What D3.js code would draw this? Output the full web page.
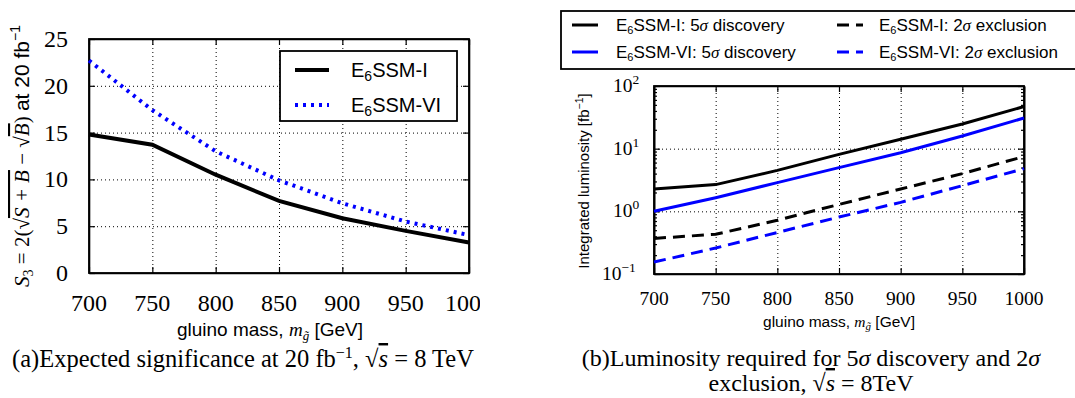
<!DOCTYPE html>
<html>
<head>
<meta charset="utf-8">
<script src="https://cdn.jsdelivr.net/npm/d3@7"></script>
<style>
  body { margin: 0; background: #fff; }
  svg { display: block; }
  .serif { font-family: "Liberation Serif", "Times New Roman", serif; }
  .sans { font-family: "Liberation Sans", Arial, sans-serif; }
  .grid line { stroke: #000; stroke-width: 1; stroke-dasharray: 1,3; }
  .grid path { display: none; }
  .frame path { stroke: #000; stroke-width: 1.6; }
  .frame line { stroke: #000; stroke-width: 1.2; }
</style>
</head>
<body>
<div id="chart"></div>
<script>
// gluino masses (GeV)
const masses = [700, 750, 800, 850, 900, 950, 1000];

// (a) expected significance S3 at 20 fb^-1
const sigI = [14.8, 13.7, 10.5, 7.7, 5.85, 4.5, 3.25];
const sigVI = [22.7, 17.4, 13.0, 9.9, 7.45, 5.5, 4.05];

// (b) luminosity required [fb^-1]
const discI = [2.27, 2.67, 4.5, 8.1, 14.1, 24.7, 47];
const discVI = [1.0, 1.65, 2.87, 4.98, 8.6, 15.9, 30.8];
const exclI = [0.37, 0.43, 0.72, 1.29, 2.27, 4.0, 7.5];
const exclVI = [0.155, 0.26, 0.46, 0.81, 1.39, 2.57, 4.8];

const xTicks = [700, 750, 800, 850, 900, 950, 1000];
const sigTicks = [0, 5, 10, 15, 20, 25];
const lumiTicks = [0.1, 1, 10, 100];

const width = 1075;
const height = 398;

const svg = d3.select('#chart')
  .append('svg')
  .attr('width', width)
  .attr('height', height);

// clip for left panel (its "1000" label gets cut)
svg.append('clipPath').attr('id', 'clipA')
  .append('rect').attr('x', 0).attr('y', 0).attr('width', 480).attr('height', height);

const line = (x, y) => d3.line().x((d, i) => x(masses[i])).y((d) => y(d));

// draws dotted grid + inward ticks on four sides
function drawFrame(g, x, y, w, h, yTickVals, minor) {
  g.append('g').attr('class', 'grid')
    .attr('transform', `translate(0,${h})`)
    .call(d3.axisBottom(x).tickValues(xTicks).tickSize(-h).tickFormat(''));
  g.append('g').attr('class', 'grid')
    .call(d3.axisLeft(y).tickValues(yTickVals).tickSize(-w).tickFormat(''));

  g.append('g').attr('class', 'frame').attr('transform', `translate(0,${h})`)
    .call(d3.axisBottom(x).tickValues(xTicks).tickSizeInner(-6).tickSizeOuter(0).tickFormat(''));
  g.append('g').attr('class', 'frame')
    .call(d3.axisTop(x).tickValues(xTicks).tickSizeInner(-6).tickSizeOuter(0).tickFormat(''));
  g.append('g').attr('class', 'frame')
    .call(d3.axisLeft(y).tickValues(yTickVals).tickSizeInner(-6).tickSizeOuter(0).tickFormat(''));
  g.append('g').attr('class', 'frame').attr('transform', `translate(${w},0)`)
    .call(d3.axisRight(y).tickValues(yTickVals).tickSizeInner(-6).tickSizeOuter(0).tickFormat(''));
  if (minor) {
    g.append('g').attr('class', 'frame')
      .call(d3.axisLeft(y).tickValues(minor).tickSizeInner(-3).tickSizeOuter(0).tickFormat(''));
    g.append('g').attr('class', 'frame').attr('transform', `translate(${w},0)`)
      .call(d3.axisRight(y).tickValues(minor).tickSizeInner(-3).tickSizeOuter(0).tickFormat(''));
  }
  g.append('rect')
    .attr('width', w).attr('height', h)
    .attr('fill', 'none').attr('stroke', '#000').attr('stroke-width', 1.8);
}

// ---------- panel (a) ----------
const aLeft = 89, aTop = 39, aW = 380, aH = 234;
const gA = svg.append('g').attr('clip-path', 'url(#clipA)')
  .append('g').attr('transform', `translate(${aLeft},${aTop})`);

const xA = d3.scaleLinear().domain([700, 1000]).range([0, aW]);
const yA = d3.scaleLinear().domain([0, 25]).range([aH, 0]);

drawFrame(gA, xA, yA, aW, aH, sigTicks, null);

gA.append('path').datum(sigVI)
  .attr('d', line(xA, yA))
  .attr('fill', 'none').attr('stroke', '#0000ff').attr('stroke-width', 4)
  .attr('stroke-dasharray', '3,5');
gA.append('path').datum(sigI)
  .attr('d', line(xA, yA))
  .attr('fill', 'none').attr('stroke', '#000').attr('stroke-width', 4);

gA.selectAll('.ylab').data(sigTicks).enter().append('text')
  .attr('class', 'serif')
  .attr('x', -21).attr('y', (d) => yA(d) + 8)
  .attr('text-anchor', 'end').attr('font-size', 24)
  .text((d) => d);
gA.selectAll('.xlab').data(xTicks).enter().append('text')
  .attr('class', 'serif')
  .attr('x', (d) => xA(d)).attr('y', aH + 38)
  .attr('text-anchor', 'middle').attr('font-size', 24)
  .text((d) => d);

// legend (a)
const legA = gA.append('g').attr('transform', `translate(${280 - aLeft},${51 - aTop})`);
legA.append('rect').attr('width', 177).attr('height', 70)
  .attr('fill', '#fff').attr('stroke', '#000').attr('stroke-width', 1.8);
const legAItems = [
  { name: 'I', y: 19, stroke: '#000', dash: null },
  { name: 'VI', y: 54, stroke: '#0000ff', dash: '3,5' },
];
legAItems.forEach((it) => {
  legA.append('line')
    .attr('x1', 15).attr('x2', 49).attr('y1', it.y).attr('y2', it.y)
    .attr('stroke', it.stroke).attr('stroke-width', 4)
    .attr('stroke-dasharray', it.dash);
  const t = legA.append('text').attr('class', 'sans')
    .attr('x', 71).attr('y', it.y + 7).attr('font-size', 20);
  t.append('tspan').text('E');
  t.append('tspan').attr('font-size', 14).attr('dy', 4).text('6');
  t.append('tspan').attr('dy', -4).text('SSM-' + it.name);
});

// x label (a)
const xlA = svg.append('text').attr('class', 'sans')
  .attr('x', 270).attr('y', 336).attr('text-anchor', 'middle').attr('font-size', 19);
xlA.append('tspan').text('gluino mass, ');
xlA.append('tspan').attr('class', 'serif').attr('font-style', 'italic').text('m');
xlA.append('tspan').attr('class', 'serif').attr('font-style', 'italic')
  .attr('font-size', 13).attr('dy', 4).text('g\u0303');
xlA.append('tspan').attr('dy', -4).text(' [GeV]');

// y label (a)
const ylA = svg.append('text')
  .attr('transform', 'translate(29,156) rotate(-90)')
  .attr('text-anchor', 'middle').attr('font-size', 21);
ylA.append('tspan').attr('class', 'serif').attr('font-style', 'italic').text('S');
ylA.append('tspan').attr('class', 'serif').attr('font-size', 14).attr('dy', 4).text('3');
ylA.append('tspan').attr('class', 'serif').attr('dy', -4).text(' = 2(\u221A');
ylA.append('tspan').attr('class', 'serif').attr('font-style', 'italic')
  .attr('text-decoration', 'overline').text('S + B');
ylA.append('tspan').attr('class', 'serif').text(' \u2212 \u221A');
ylA.append('tspan').attr('class', 'serif').attr('font-style', 'italic')
  .attr('text-decoration', 'overline').text('B');
ylA.append('tspan').attr('class', 'serif').text(') ');
ylA.append('tspan').attr('class', 'sans').text('at 20 fb');
ylA.append('tspan').attr('class', 'sans').attr('font-size', 14).attr('dy', -9).text('\u22121');

// caption (a)
const capA = svg.append('text').attr('class', 'serif')
  .attr('x', 12).attr('y', 367).attr('font-size', 24.5);
capA.append('tspan').text('(a)Expected significance at 20 fb');
capA.append('tspan').attr('font-size', 16).attr('dy', -9).text('\u22121');
capA.append('tspan').attr('dy', 9).text(', \u221A');
capA.append('tspan').attr('font-style', 'italic').attr('text-decoration', 'overline').text('s');
capA.append('tspan').text(' = 8 TeV');

// ---------- panel (b) ----------
const bLeft = 654, bTop = 86, bW = 370, bH = 188;
const gB = svg.append('g').attr('transform', `translate(${bLeft},${bTop})`);

const xB = d3.scaleLinear().domain([700, 1000]).range([0, bW]);
const yB = d3.scaleLog().domain([0.1, 100]).range([bH, 0]);
const minorB = yB.ticks().filter((d) => !lumiTicks.some((t) => Math.abs(t - d) < 1e-9));

drawFrame(gB, xB, yB, bW, bH, lumiTicks, minorB);

const seriesB = [
  { data: exclVI, stroke: '#0000ff', dash: '12,7' },
  { data: exclI, stroke: '#000', dash: '12,7' },
  { data: discVI, stroke: '#0000ff', dash: null },
  { data: discI, stroke: '#000', dash: null },
];
seriesB.forEach((s) => {
  gB.append('path').datum(s.data)
    .attr('d', line(xB, yB))
    .attr('fill', 'none').attr('stroke', s.stroke).attr('stroke-width', 3)
    .attr('stroke-dasharray', s.dash);
});

lumiTicks.forEach((d) => {
  const exp = Math.round(Math.log10(d));
  const txt = exp < 0 ? '\u2212' + Math.abs(exp) : String(exp);
  const t = gB.append('text').attr('class', 'serif')
    .attr('x', exp < 0 ? -52 : -41).attr('y', yB(d) + 6)
    .attr('text-anchor', 'start').attr('font-size', 19.5);
  t.append('tspan').text('10');
  t.append('tspan').attr('font-size', 13.5).attr('dy', -8).text(txt);
});
gB.selectAll('.xlab').data(xTicks).enter().append('text')
  .attr('class', 'serif')
  .attr('x', (d) => xB(d)).attr('y', bH + 31)
  .attr('text-anchor', 'middle').attr('font-size', 19.5)
  .text((d) => d);

// x label (b)
const xlB = svg.append('text').attr('class', 'sans')
  .attr('x', 839).attr('y', 327).attr('text-anchor', 'middle').attr('font-size', 15.5);
xlB.append('tspan').text('gluino mass, ');
xlB.append('tspan').attr('class', 'serif').attr('font-style', 'italic').text('m');
xlB.append('tspan').attr('class', 'serif').attr('font-style', 'italic')
  .attr('font-size', 11).attr('dy', 3).text('g\u0303');
xlB.append('tspan').attr('dy', -3).text(' [GeV]');

// y label (b)
const ylB = svg.append('text').attr('class', 'sans')
  .attr('transform', 'translate(589,181) rotate(-90)')
  .attr('text-anchor', 'middle').attr('font-size', 15);
ylB.append('tspan').text('Integrated luminosity [fb');
ylB.append('tspan').attr('font-size', 10.5).attr('dy', -6).text('\u22121');
ylB.append('tspan').attr('dy', 6).text(']');

// legend (b)
const legB = svg.append('g').attr('transform', 'translate(561,11)');
legB.append('rect').attr('width', 530).attr('height', 58)
  .attr('fill', '#fff').attr('stroke', '#000').attr('stroke-width', 1.8);
const legBItems = [
  { model: 'I', what: '5', word: 'discovery', stroke: '#000', dash: null, col: 0, row: 0 },
  { model: 'VI', what: '5', word: 'discovery', stroke: '#0000ff', dash: null, col: 0, row: 1 },
  { model: 'I', what: '2', word: 'exclusion', stroke: '#000', dash: '12,7', col: 1, row: 0 },
  { model: 'VI', what: '2', word: 'exclusion', stroke: '#0000ff', dash: '12,7', col: 1, row: 1 },
];
legBItems.forEach((it) => {
  const lx = it.col === 0 ? 11 : 276;
  const tx = it.col === 0 ? 55 : 318;
  const ly = 14 + it.row * 27;
  legB.append('line')
    .attr('x1', lx).attr('x2', lx + 26).attr('y1', ly).attr('y2', ly)
    .attr('stroke', it.stroke).attr('stroke-width', 3)
    .attr('stroke-dasharray', it.dash);
  const t = legB.append('text').attr('class', 'sans')
    .attr('x', tx).attr('y', ly + 6).attr('font-size', 17);
  t.append('tspan').text('E');
  t.append('tspan').attr('font-size', 11).attr('dy', 3).text('6');
  t.append('tspan').attr('dy', -3).text(`SSM-${it.model}: ${it.what}`);
  t.append('tspan').attr('class', 'serif').attr('font-style', 'italic').text('\u03C3');
  t.append('tspan').text(' ' + it.word);
});

// caption (b)
const capB1 = svg.append('text').attr('class', 'serif')
  .attr('x', 811).attr('y', 366).attr('text-anchor', 'middle').attr('font-size', 24);
capB1.append('tspan').text('(b)Luminosity required for 5');
capB1.append('tspan').attr('font-style', 'italic').text('\u03C3');
capB1.append('tspan').text(' discovery and 2');
capB1.append('tspan').attr('font-style', 'italic').text('\u03C3');
const capB2 = svg.append('text').attr('class', 'serif')
  .attr('x', 811).attr('y', 391).attr('text-anchor', 'middle').attr('font-size', 24);
capB2.append('tspan').text('exclusion, \u221A');
capB2.append('tspan').attr('font-style', 'italic').attr('text-decoration', 'overline').text('s');
capB2.append('tspan').text(' = 8TeV');
</script>
</body>
</html>
